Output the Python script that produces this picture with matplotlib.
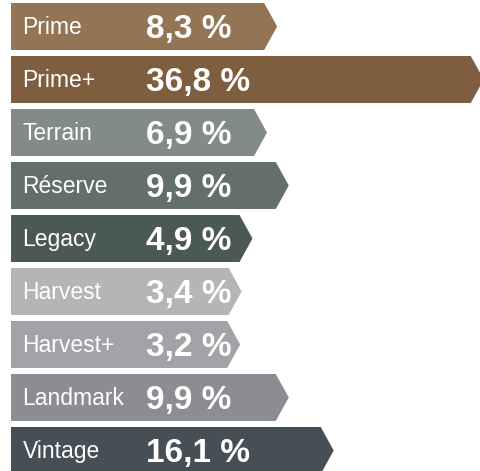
import matplotlib.pyplot as plt
from matplotlib.patches import Polygon

labels = ["Prime", "Prime+", "Terrain", "Réserve", "Legacy",
          "Harvest", "Harvest+", "Landmark", "Vintage"]
values = [8.3, 36.8, 6.9, 9.9, 4.9, 3.4, 3.2, 9.9, 16.1]
value_text = ["8,3 %", "36,8 %", "6,9 %", "9,9 %", "4,9 %",
              "3,4 %", "3,2 %", "9,9 %", "16,1 %"]
colors = ["#937555", "#7f5e3f", "#838b88", "#636f6b", "#4b5955",
          "#b5b5b7", "#a3a2a7", "#8c8d92", "#464e56"]

fig = plt.figure(figsize=(4.8, 4.71), dpi=100)
ax = fig.add_axes([0, 0, 1, 1])
ax.set_xlim(-29.93, 36.28)
ax.set_ylim(8.387, -0.5)
ax.axis("off")

start = -28.41   # left edge of every bar
tip = 1.79       # depth of the arrow point
h = 0.887        # bar height (row units)

for i, (lab, v, txt, c) in enumerate(zip(labels, values, value_text, colors)):
    pts = [(start, i - h / 2), (v - tip, i - h / 2), (v, i),
           (v - tip, i + h / 2), (start, i + h / 2)]
    ax.add_patch(Polygon(pts, closed=True, facecolor=c, edgecolor="none"))
    ax.text(-26.83, i + 0.15, lab, color="white", fontsize=16.5,
            family="Liberation Sans", va="baseline", ha="left")
    ax.text(-9.79, i + 0.22, txt, color="white", fontsize=24,
            family="Liberation Sans", weight="bold", va="baseline", ha="left")

fig.savefig("out.png", dpi=100)
